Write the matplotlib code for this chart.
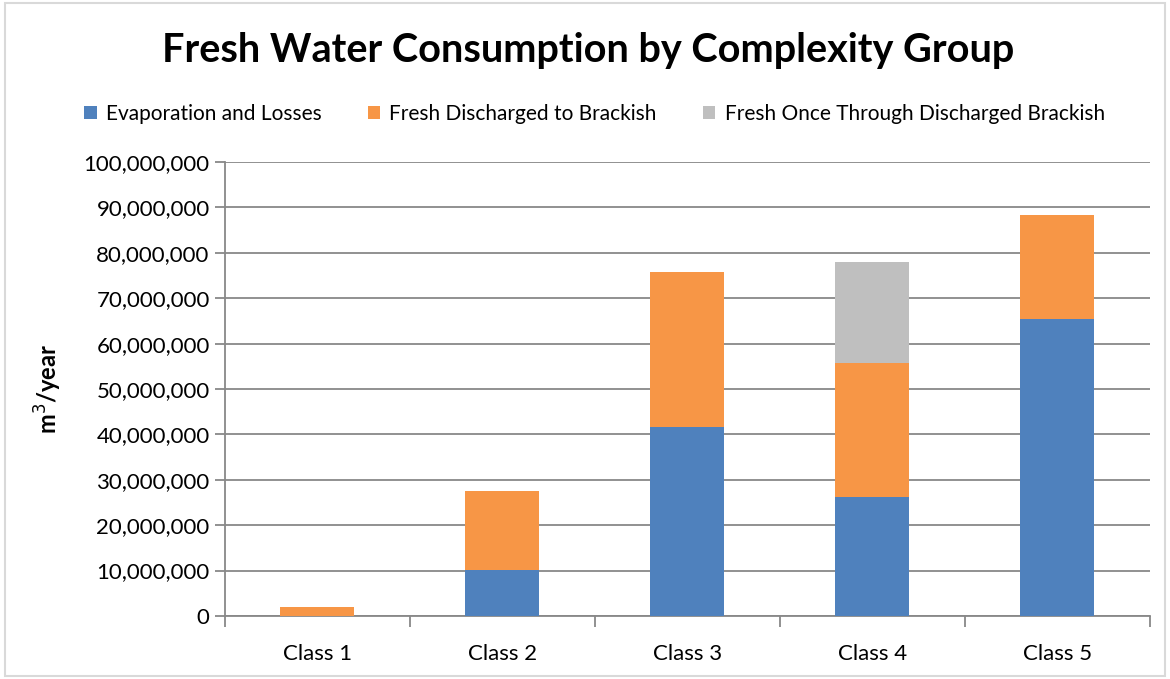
import numpy as np
import matplotlib.pyplot as plt
from matplotlib.ticker import FuncFormatter, FixedLocator

plt.rcParams['font.family'] = ['Lato', 'DejaVu Sans']

classes = ['Class 1', 'Class 2', 'Class 3', 'Class 4', 'Class 5']
evaporation = [0, 10.1e6, 41.6e6, 26.2e6, 65.4e6]
fresh_brackish = [1.9e6, 17.4e6, 34.2e6, 29.5e6, 22.9e6]
once_through = [0, 0, 0, 22.3e6, 0]

c_blue = '#4f81bd'
c_orange = '#f79646'
c_gray = '#bfbfbf'
grid_c = '#888888'


def main():
    fig = plt.figure(figsize=(11.7, 6.79), dpi=100)
    ax = fig.add_axes([0.1923, 0.0928, 0.7906, 0.6686])

    x = np.arange(len(classes))
    ev = np.array(evaporation)
    fb = np.array(fresh_brackish)
    ot = np.array(once_through)
    w = 0.4
    ax.bar(x, ev, w, color=c_blue, label='Evaporation and Losses', zorder=3)
    ax.bar(x, fb, w, bottom=ev, color=c_orange,
           label='Fresh Discharged to Brackish', zorder=3)
    ax.bar(x, ot, w, bottom=ev + fb, color=c_gray,
           label='Fresh Once Through Discharged Brackish', zorder=3)

    ax.set_xlim(-0.5, len(classes) - 0.5)
    ax.set_ylim(0, 100e6)
    ax.set_yticks(np.arange(0, 100e6 + 1, 10e6))
    ax.yaxis.set_major_formatter(FuncFormatter(lambda v, p: f'{int(v):,}'))
    ax.yaxis.grid(True, color=grid_c, linewidth=1.3, zorder=0)

    ax.set_xticks(x)
    ax.set_xticklabels(classes)
    ax.xaxis.set_minor_locator(FixedLocator(np.arange(-0.5, len(classes), 1)))
    ax.tick_params(axis='x', which='major', length=0, pad=20, labelsize=16)
    ax.tick_params(axis='x', which='minor', length=8, color=grid_c, width=1.3)
    ax.tick_params(axis='y', length=7, color=grid_c, width=1.3, labelsize=16, pad=4)

    for s in ['top', 'right']:
        ax.spines[s].set_visible(False)
    for s in ['left', 'bottom']:
        ax.spines[s].set_color(grid_c)
        ax.spines[s].set_linewidth(1.3)

    ax.set_ylabel('m$^3$/year', fontsize=17, fontweight='bold', labelpad=14)

    fig.text(0.503, 0.925, 'Fresh Water Consumption by Complexity Group',
             ha='center', va='center', fontsize=28.5, fontweight='bold')
    fig.legend(loc='center', bbox_to_anchor=(0.508, 0.832), ncol=3,
               frameon=False, fontsize=15, handlelength=0.6, handleheight=0.6,
               columnspacing=2.2, handletextpad=0.45)

    # chart border
    fig.add_artist(plt.Rectangle((0.004, 0.004), 0.992, 0.992, fill=False,
                                 edgecolor='#d9d9d9', linewidth=1.5,
                                 transform=fig.transFigure))

    fig.savefig('out.png', dpi=100)


if __name__ == "__main__":
    main()
